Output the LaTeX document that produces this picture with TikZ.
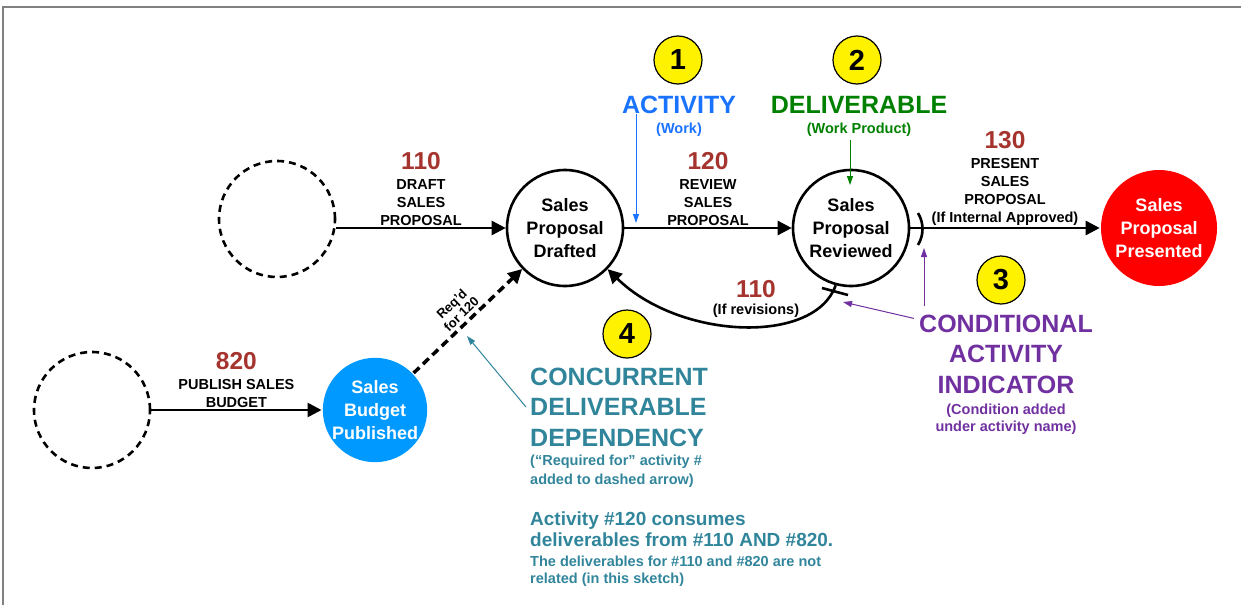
\documentclass[tikz,border=0pt]{standalone}
\usepackage{fontspec}
\setmainfont{Liberation Sans}
\usetikzlibrary{arrows.meta, positioning}

\definecolor{actblue}{RGB}{26,115,255}
\definecolor{delgreen}{RGB}{0,128,0}
\definecolor{numred}{RGB}{166,52,46}
\definecolor{condpurple}{RGB}{112,48,160}
\definecolor{concteal}{RGB}{49,133,155}
\definecolor{budgetblue}{RGB}{0,153,255}

\tikzset{
  state/.style={circle, draw, line width=2.6pt, minimum size=116pt, inner sep=0pt,
    align=center, font=\fontsize{18}{23}\selectfont\bfseries},
  openend/.style={circle, draw, line width=2.6pt, dash pattern=on 7pt off 5pt,
    minimum size=116pt, inner sep=0pt},
  flow/.style={line width=2.6pt, -{Triangle[length=14pt,width=14pt]}},
  reqflow/.style={flow, line width=3.5pt, dash pattern=on 8pt off 5pt},
  act/.style={align=center, font=\fontsize{14.5}{18}\selectfont\bfseries, inner sep=1pt},
  actnum/.style={text=numred, font=\fontsize{24.5}{28}\selectfont\bfseries, inner sep=0pt},
  marker/.style={circle, draw, line width=1.2pt, fill=yellow, minimum size=48pt,
    inner sep=0pt, font=\fontsize{29}{30}\selectfont\bfseries},
  callout/.style={line width=1pt, -{Triangle[length=9pt,width=6pt]}},
  bigtitle/.style={font=\fontsize{25}{30.5}\selectfont\bfseries, inner sep=0pt},
  note/.style={font=\fontsize{14.5}{18}\selectfont\bfseries, inner sep=0pt}
}

\begin{document}
\begin{tikzpicture}[x=1pt, y=-1pt]
  \useasboundingbox (0,0) rectangle (1241,605);
  \draw[gray, line width=1.2pt] (3,605) -- (3,7) -- (1241,7);

  % states
  \node[openend] (blank110) at (277,219) {};
  \node[openend] (blank820) at (92,410) {};
  \node[state] (drafted) at (565,228) {Sales\\Proposal\\Drafted};
  \node[state] (reviewed) at (851,228) {Sales\\Proposal\\Reviewed};
  \node[state, draw=none, fill=red, text=white] (presented) at (1159,228) {Sales\\Proposal\\Presented};
  \node[state, draw=none, fill=budgetblue, text=white, minimum size=104pt] (budget) at (375,410) {Sales\\Budget\\Published};

  % activities
  \draw[flow] (blank110.east |- drafted.west) -- node[act, above] (t110) {DRAFT\\SALES\\PROPOSAL} (drafted.west);
  \node[actnum, above=7pt of t110] (n110) {110};

  \draw[flow] (drafted) -- node[act, above] (t120) {REVIEW\\SALES\\PROPOSAL} (reviewed);
  \node[actnum, above=7pt of t120] (n120) {120};

  \draw[flow] (reviewed) -- node[act, above] (t130) {PRESENT\\SALES\\PROPOSAL\\(If Internal Approved)} (presented);
  \node[actnum, above=7pt of t130] (n130) {130};

  \draw[flow] (blank820) -- node[act, above] (t820) {PUBLISH SALES\\BUDGET} (budget);
  \node[actnum, above=7pt of t820] (n820) {820};

  \draw[flow] (reviewed.-105) .. controls (815,345) and (680,340) .. (drafted.-44);
  \node[act] (trev) at (756,311) {(If revisions)};
  \node[actnum, above=5pt of trev] (nrev) {110};

  \draw[reqflow] (budget) -- node[midway, rotate=44, anchor=south, align=center, inner sep=3pt,
    font=\fontsize{13}{14}\selectfont\bfseries] (reqlbl) {Req'd\\for 120} (drafted);

  % condition ticks
  \draw[line width=2.6pt] (822,288) -- (848,295);
  \draw[line width=2.6pt] (918,213) .. controls (924,223) and (924,235) .. (918,245);
  \coordinate (revtick) at (843,302);
  \coordinate (condtick) at (924,248);

  % legend markers
  \node[marker] (m1) at (678,60) {1};
  \node[marker] (m2) at (857,60) {2};
  \node[marker] (m3) at (1001,280) {3};
  \node[marker] (m4) at (627,334) {4};

  % 1 activity
  \node[bigtitle, text=actblue] (activity) at (679,105) {ACTIVITY};
  \node[note, text=actblue] (work) at (679,130) {(Work)};
  \coordinate (acttip) at (636,223);
  \draw[callout, actblue] (acttip |- activity.south) -- (acttip);

  % 2 deliverable
  \node[bigtitle, text=delgreen] (deliv) at (859,105) {DELIVERABLE};
  \node[note, text=delgreen] (workprod) at (859,130) {(Work Product)};
  \coordinate (deltip) at (850,185);
  \draw[callout, delgreen] ([yshift=-3pt]deltip |- workprod.south) -- (deltip);

  % 3 conditional
  \node[bigtitle, text=condpurple, align=center] (cond) at (1006,354) {CONDITIONAL\\ACTIVITY\\INDICATOR};
  \node[note, text=condpurple, align=center, font=\fontsize{14.5}{17}\selectfont\bfseries] (condnote) at (1006,419) {(Condition added\\under activity name)};
  \draw[callout, condpurple] ([xshift=-5pt, yshift=-4pt]cond.north west) -- (revtick);
  \draw[callout, condpurple] ([yshift=8pt]condtick |- cond.north) -- (condtick);

  % 4 concurrent
  \node[bigtitle, text=concteal, align=left, anchor=west] (concur) at (530,407) {CONCURRENT\\DELIVERABLE\\DEPENDENCY};
  \node[note, text=concteal, align=left, anchor=north west, font=\fontsize{14.5}{19}\selectfont\bfseries] (reqnote) at (530,455) {(“Required for” activity \#\\added to dashed arrow)};
  \node[note, text=concteal, align=left, anchor=north west, font=\fontsize{19}{21}\selectfont\bfseries] (consume) at (530,512) {Activity \#120 consumes\\deliverables from \#110 AND \#820.};
  \node[note, text=concteal, align=left, anchor=north west, font=\fontsize{14.5}{17}\selectfont\bfseries] (relnote) at (530,556) {The deliverables for \#110 and \#820 are not\\related (in this sketch)};
  \coordinate (reqtip) at (467,336);
  \draw[callout, concteal] ([xshift=-4pt]concur.west) -- (reqtip);
\end{tikzpicture}
\end{document}
